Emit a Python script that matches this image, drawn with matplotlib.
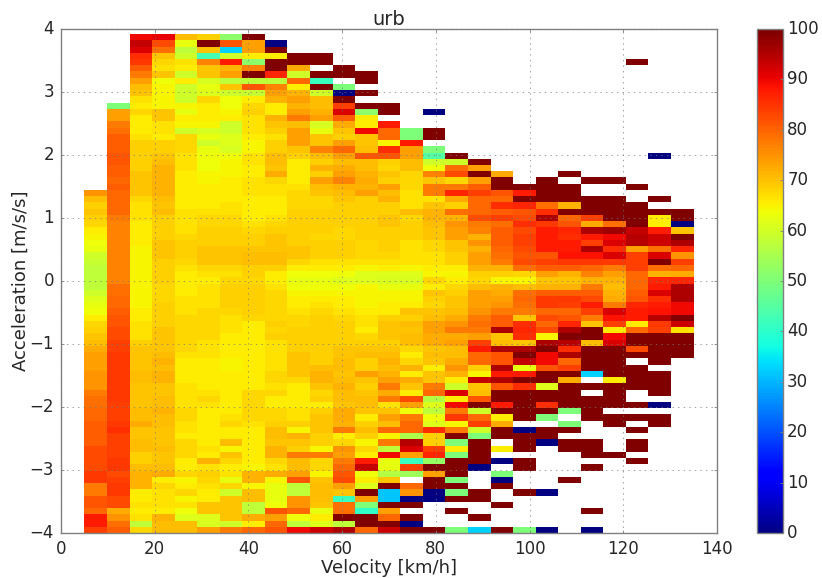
from matplotlib import pyplot as plt
import numpy as np

n = np.nan

# 27 velocity bins, 80 acceleration bins, rows from top to bottom
# trailing empty cells are left out of the rows
vel_edges = np.linspace(5, 135, 28)
acc_edges = np.linspace(3.92, -4, 81)
x_ticks = [0, 20, 40, 60, 80, 100, 120, 140]
y_ticks = [-4, -3, -2, -1, 0, 1, 2, 3, 4]
cbar_ticks = [0, 10, 20, 30, 40, 50, 60, 70, 80, 90, 100]

row00 = [n,n,90,91,71,69,52,100]
row01 = [n,n,94,83,63,100,82,74,0]
row02 = [n,n,92,79,58,70,33,74,100]
row03 = [n,n,86,70,60,43,60,66,66,100,100]
row04 = [n,n,85,68,67,77,88,52,100,100,100,n,n,n,n,n,n,n,n,n,n,n,n,n,100]
row05 = [n,n,81,67,66,70,72,77,100,73,n,100]
row06 = [n,n,78,70,60,70,74,100,87,60,100,100,100]
row07 = [n,n,74,64,66,61,58,58,58,80,42,n,100]
row08 = [n,n,71,65,60,63,70,82,77,66,100,50]
row09 = [n,n,70,65,60,62,60,59,74,72,60,0,100]
row10 = [n,n,67,65,60,68,64,66,72,74,71,100]
row11 = [n,50,66,65,65,66,64,68,66,72,71,84,100,100]
row12 = [n,74,68,70,63,66,65,69,66,74,72,92,52,100,n,0]
row13 = [n,74,66,70,66,66,66,67,72,78,74,81,66]
row14 = [n,78,66,67,65,65,60,67,70,71,61,73,66,88]
row15 = [n,79,66,67,60,61,60,67,69,74,63,70,90,80,50,100]
row16 = [n,81,67,66,68,63,62,66,67,74,70,69,70,80,50,100]
row17 = [n,81,69,69,68,60,62,65,69,74,70,74,70,65,88]
row18 = [n,81,69,69,68,63,61,65,69,70,77,80,71,86,74,50]
row19 = [n,82,69,70,67,64,64,67,71,69,71,74,82,82,74,45,100,n,n,n,n,n,n,n,n,0]
row20 = [n,82,69,71,67,64,65,67,71,66,69,71,71,69,71,60,60,100]
row21 = [n,81,69,72,67,64,65,66,70,66,72,73,71,68,71,64,79,74]
row22 = [n,81,70,72,66,65,65,66,73,66,69,74,72,70,68,77,83,100,73,n,n,100]
row23 = [n,80,70,72,66,65,66,67,68,66,74,77,73,69,68,70,68,74,100,n,100,n,100,100]
row24 = [n,81,70,72,66,66,66,67,67,67,71,72,72,74,68,78,78,81,100,100,100,100,n,n,100]
row25 = [75,80,70,72,66,66,66,67,67,68,70,71,74,71,67,78,87,84,82,88,100,100]
row26 = [71,80,68,71,66,66,66,66,66,68,68,70,69,72,67,67,73,80,80,100,100,100,100,100,n,100]
row27 = [69,80,67,70,66,66,67,66,66,68,68,69,69,69,67,70,69,80,86,87,79,72,100,100,100]
row28 = [70,80,67,71,67,67,67,66,66,69,69,69,69,69,71,72,79,80,81,82,86,100,100,100,100,100,100]
row29 = [69,78,67,69,67,68,68,66,67,69,69,69,69,70,68,72,72,83,84,83,96,80,84,100,100,66,100]
row30 = [68,77,66,69,67,68,68,67,68,69,69,69,69,70,69,71,75,78,79,86,85,82,73,79,100,66,0]
row31 = [66,77,66,69,67,69,69,68,69,69,69,68,69,69,69,70,74,77,81,83,88,87,96,97,94,88,70]
row32 = [65,77,66,69,68,69,69,69,70,69,68,68,69,69,69,70,74,72,81,84,88,86,88,90,95,93,100]
row33 = [64,77,66,70,69,69,69,69,70,69,69,69,68,69,67,68,70,75,81,84,88,88,84,92,95,93,96]
row34 = [63,77,65,70,69,70,70,70,70,70,69,69,68,69,67,68,70,72,80,83,88,88,96,86,74,79,87]
row35 = [60,77,65,70,69,70,70,71,71,70,69,69,68,68,67,67,69,74,79,82,82,89,89,92,84,92,75]
row36 = [59,77,65,69,68,70,70,71,71,68,67,67,67,67,67,67,69,74,78,83,84,85,85,85,84,100,84]
row37 = [58,77,65,69,67,68,68,69,69,66,66,66,65,66,65,66,66,72,72,79,81,81,80,78,84,79,80]
row38 = [58,77,65,69,66,67,67,69,66,64,64,64,62,62,62,65,65,69,69,68,74,72,77,74,80,72,73]
row39 = [58,77,65,69,66,66,68,68,66,63,63,62,62,61,61,68,66,68,65,65,70,70,72,72,80,87,87]
row40 = [58,79,65,68,66,67,69,69,67,64,64,64,65,63,63,66,68,71,72,71,72,72,78,71,80,88,96]
row41 = [60,79,65,68,66,67,69,69,68,65,65,65,65,65,65,70,69,74,73,79,81,81,81,72,81,92,96]
row42 = [62,80,65,68,67,67,69,69,68,66,66,66,65,65,65,69,70,74,74,80,85,85,83,73,82,86,96]
row43 = [63,80,65,69,67,67,69,69,68,66,67,66,65,66,66,68,70,74,75,79,85,84,88,78,87,88,90]
row44 = [64,81,66,69,67,68,68,69,68,67,68,67,66,66,70,70,71,75,78,78,80,80,84,92,88,89,90]
row45 = [66,82,66,69,68,68,67,68,68,68,69,68,67,69,69,71,73,78,81,70,83,82,78,89,88,95,100]
row46 = [68,82,67,69,68,68,67,66,69,68,69,69,67,70,71,74,75,79,81,86,80,87,70,84,66,85,93]
row47 = [69,83,67,70,68,68,67,66,68,69,69,69,66,70,70,74,78,78,96,87,83,96,100,66,80,84,67]
row48 = [70,83,67,70,68,68,66,66,69,69,69,69,68,70,71,73,73,74,70,86,65,100,100,90,100,100,100]
row49 = [71,84,69,70,68,67,66,66,67,69,69,69,69,69,71,73,74,84,71,70,96,95,71,92,100,100,100]
row50 = [73,84,70,70,68,67,66,66,67,69,69,70,70,70,68,70,71,88,96,96,100,86,100,100,83,100,100]
row51 = [74,85,70,71,67,67,66,66,67,70,69,70,71,71,66,71,71,80,82,100,90,96,100,100,100,100,100]
row52 = [74,85,70,72,66,66,65,66,67,70,69,71,69,72,68,70,73,80,82,94,90,80,100,100,n,100]
row53 = [74,85,70,71,66,66,65,66,67,70,71,71,69,71,72,66,75,69,96,63,82,84,100,100,100]
row54 = [75,85,71,72,66,66,66,66,68,70,72,70,74,72,66,70,72,65,88,88,100,100,33,100,100,100]
row55 = [75,85,71,72,66,66,66,66,68,68,72,71,70,74,73,70,66,94,96,100,100,73,n,66,100,100]
row56 = [75,85,70,70,67,66,66,66,67,66,70,72,69,78,70,78,60,70,82,86,62,100,100,100,100,100]
row57 = [78,85,70,70,67,67,66,68,68,66,68,71,70,73,66,80,92,71,100,100,100,100,n,100,n,100]
row58 = [79,85,70,71,67,68,66,68,66,66,69,71,71,78,83,57,66,82,100,100,100,100,100,100]
row59 = [79,84,70,71,67,67,66,68,66,66,66,70,71,67,74,62,90,100,88,100,86,100,100,100,100,0]
row60 = [80,84,71,72,68,66,66,68,68,67,69,73,70,70,64,58,78,60,100,100,100,50,100]
row61 = [80,84,71,71,68,66,67,68,68,67,70,73,66,74,78,64,85,80,66,100,50,n,100,100,100,100]
row62 = [81,85,73,71,67,66,68,67,69,69,70,72,69,71,80,62,65,84,73,n,n,50,n,100,n,100]
row63 = [81,86,70,70,67,66,66,66,71,65,70,78,71,80,80,86,78,60,100,0,100,100,n,n,100]
row64 = [81,84,70,70,66,66,66,66,71,72,69,66,69,65,56,69,100,50,100,100,100]
row65 = [81,84,71,70,68,66,71,66,70,70,69,68,65,78,95,69,50,100,n,100,0,100,100,n,100]
row66 = [83,84,71,71,68,67,65,66,72,69,65,75,68,58,92,84,66,100,66,100,n,100,100,n,100]
row67 = [83,84,69,70,68,66,70,66,72,78,78,74,66,90,74,87,50,100,n,n,n,n,100,100]
row68 = [83,85,69,70,66,72,68,66,68,71,68,78,88,63,42,53,100,100,0,100,n,n,n,n,100]
row69 = [83,85,71,71,66,67,66,65,67,71,68,80,94,63,84,100,100,0,n,100,n,n,100]
row70 = [85,83,72,73,68,69,67,72,73,74,65,82,64,57,54,74,100,n,50]
row71 = [85,84,72,66,65,68,63,72,65,82,70,83,66,70,n,100,50,n,0,n,n,100]
row72 = [78,85,72,68,66,67,68,65,63,58,71,74,62,100,80,100,100,n,100]
row73 = [78,85,66,67,68,66,60,71,63,58,71,70,100,32,75,0,50,100,n,100,0]
row74 = [82,83,66,67,65,66,70,71,63,75,71,42,74,32,0,0,100,100]
row75 = [82,83,67,67,67,70,70,58,64,75,70,79,50,100,100,n,n,n,100]
row76 = [80,73,66,66,64,70,70,58,82,80,63,79,41,74,n,n,100,n,n,n,n,n,100]
row77 = [88,75,67,72,62,62,70,73,74,64,66,100,100,80,100,n,n,100]
row78 = [88,79,58,71,71,61,60,66,80,58,62,58,100,100,0]
row79 = [84,81,68,71,71,74,78,80,82,90,93,96,80,93,100,100,50,33,100,50,0,n,0]

rows = [row00, row01, row02, row03, row04, row05, row06, row07, row08, row09,
        row10, row11, row12, row13, row14, row15, row16, row17, row18, row19,
        row20, row21, row22, row23, row24, row25, row26, row27, row28, row29,
        row30, row31, row32, row33, row34, row35, row36, row37, row38, row39,
        row40, row41, row42, row43, row44, row45, row46, row47, row48, row49,
        row50, row51, row52, row53, row54, row55, row56, row57, row58, row59,
        row60, row61, row62, row63, row64, row65, row66, row67, row68, row69,
        row70, row71, row72, row73, row74, row75, row76, row77, row78, row79]

grid = np.array([r + [n] * (27 - len(r)) for r in rows], dtype=float)
grid = np.ma.masked_invalid(grid)

W, H = 822, 578
plt.style.use('classic')
edge = '#808080'
text_col = '#262626'
plt.rcParams['font.family'] = 'DejaVu Sans'

fig = plt.figure(figsize=(W / 100, H / 100), dpi=100, facecolor='white')
ax = fig.add_axes([61 / W, 1 - 533 / H, 656 / W, 504 / H])
mesh = ax.pcolormesh(vel_edges, acc_edges, grid, cmap='jet', vmin=0, vmax=100,
                     edgecolors='none')
ax.set_xlim(0, 140)
ax.set_ylim(-4, 4)
ax.set_xticks(x_ticks)
ax.set_yticks(y_ticks)
ax.set_yticklabels(['\u22124', '\u22123', '\u22122', '\u22121', '0', '1', '2', '3', '4'])
ax.grid(True, linestyle=':', linewidth=0.5, color='#777777')
ax.tick_params(labelsize=12, colors=edge, labelcolor=text_col, length=2, width=0.6,
               direction='in', top=True, right=True, pad=5)
ax.set_xlabel('Velocity [km/h]', fontsize=13, color=text_col, labelpad=1)
ax.set_ylabel('Acceleration [m/s/s]', fontsize=13, color=text_col, labelpad=0)
ax.set_title('urb', fontsize=14, color=text_col, pad=3)
for s in ax.spines.values():
    s.set_color(edge)
    s.set_linewidth(1)

cax = fig.add_axes([757 / W, 1 - 533 / H, 26 / W, 504 / H])
cb = fig.colorbar(mesh, cax=cax, ticks=cbar_ticks)
cb.ax.tick_params(labelsize=12, colors=edge, labelcolor=text_col, length=2, width=0.6,
                  direction='in', pad=3)
cb.outline.set_edgecolor(edge)
cb.solids.set_edgecolor('face')

fig.savefig('out.png', dpi=100, facecolor='white')
